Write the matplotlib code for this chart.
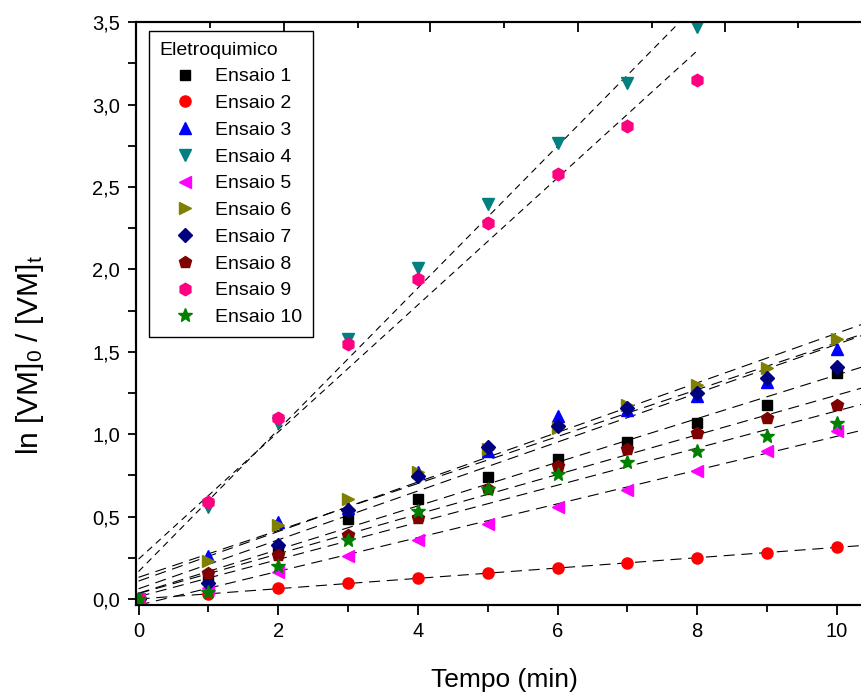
import numpy as np
import matplotlib
matplotlib.use('Agg')
import matplotlib.pyplot as plt
from matplotlib.ticker import MultipleLocator, FuncFormatter

plt.rcParams['font.family'] = ['Liberation Sans', 'DejaVu Sans']
plt.rcParams['mathtext.fontset'] = 'custom'
plt.rcParams['mathtext.rm'] = 'Liberation Sans'
plt.rcParams['mathtext.it'] = 'Liberation Sans:italic'

# data
tempo = [0, 1, 2, 3, 4, 5, 6, 7, 8, 9, 10]
tempo_curto = [0, 1, 2, 3, 4, 5, 6, 7, 8]

ensaio1 = [0, 0.12, 0.30, 0.485, 0.61, 0.74, 0.85, 0.95, 1.07, 1.18, 1.37]
ensaio2 = [0, 0.03, 0.065, 0.095, 0.125, 0.157, 0.19, 0.22, 0.25, 0.28, 0.315]
ensaio3 = [0, 0.26, 0.47, 0.55, 0.77, 0.90, 1.11, 1.15, 1.23, 1.32, 1.52]
ensaio4 = [0, 0.56, 1.07, 1.58, 2.01, 2.40, 2.77, 3.13, 3.47]
ensaio5 = [0, 0.07, 0.165, 0.26, 0.36, 0.455, 0.56, 0.66, 0.78, 0.90, 1.02]
ensaio6 = [0, 0.23, 0.45, 0.61, 0.77, 0.91, 1.04, 1.18, 1.30, 1.40, 1.58]
ensaio7 = [0, 0.10, 0.33, 0.54, 0.745, 0.92, 1.05, 1.16, 1.25, 1.34, 1.41]
ensaio8 = [0, 0.16, 0.27, 0.39, 0.49, 0.67, 0.81, 0.91, 1.01, 1.10, 1.18]
ensaio9 = [0, 0.59, 1.10, 1.55, 1.94, 2.28, 2.58, 2.87, 3.15]
ensaio10 = [0, 0.045, 0.20, 0.36, 0.535, 0.67, 0.76, 0.83, 0.90, 0.99, 1.07]

labels = ['Ensaio %d' % i for i in range(1, 11)]
valores = [ensaio1, ensaio2, ensaio3, ensaio4, ensaio5,
           ensaio6, ensaio7, ensaio8, ensaio9, ensaio10]
cores = ['#000000', '#FF0000', '#0000FF', '#008080', '#FF00FF',
         '#808000', '#000080', '#800000', '#FF0080', '#008000']
marcadores = ['s', 'o', '^', 'v', '<', '>', 'D', 'p', 'h', '*']
tamanhos = [7, 8, 9, 9, 9, 9, 7.5, 9, 9, 10]

fig = plt.figure(figsize=(8.61, 6.95), dpi=100)
# axes run past the right edge, the original picture is cropped there
ax = fig.add_axes([0.158, 0.1295, 0.895, 0.8385])

for lab, y, c, m, s in zip(labels, valores, cores, marcadores, tamanhos):
    x = tempo if len(y) == len(tempo) else tempo_curto
    a, b = np.polyfit(x, y, 1)
    if len(y) == len(tempo):
        xl = np.array([0, 11])
        dash = (10, 6)
    else:
        xl = np.array([0, 8])
        dash = (6, 4.5)
    ax.plot(xl, a * xl + b, color='black', lw=0.8, dashes=dash, zorder=2)
    ax.plot(x, y, linestyle='none', marker=m, color=c, mec=c, ms=s,
            label=lab, zorder=3)

ax.set_xlim(-0.036, 11)
ax.set_ylim(-0.036, 3.5)
ax.xaxis.set_major_locator(MultipleLocator(2))
ax.xaxis.set_minor_locator(MultipleLocator(1))
ax.yaxis.set_major_locator(MultipleLocator(0.5))
ax.yaxis.set_minor_locator(MultipleLocator(0.25))
ax.yaxis.set_major_formatter(FuncFormatter(lambda v, p: ('%.1f' % v).replace('.', ',')))

ax.tick_params(axis='both', which='major', direction='out', length=7, width=1.3,
               labelsize=14.5, pad=5.5)
ax.tick_params(axis='x', which='minor', direction='out', length=5, width=1.3)
ax.tick_params(axis='y', which='minor', direction='out', length=6, width=1.3)
ax.tick_params(axis='y', which='major', length=6)
for sp in ax.spines.values():
    sp.set_linewidth(1.5)

# top axis ticks (inward, own spacing)
ax2 = ax.twiny()
ax2.set_xlim(ax.get_xlim())
ax2.set_xticks([2.08, 4.18, 6.29, 8.40, 10.5])
ax2.set_xticks([1.03, 3.14, 5.23, 7.35, 9.44], minor=True)
ax2.tick_params(axis='x', which='major', direction='in', length=7, width=1.3, labeltop=False)
ax2.tick_params(axis='x', which='minor', direction='in', length=4, width=1.3)
for sp in ax2.spines.values():
    sp.set_linewidth(1.5)

ax.set_xlabel('Tempo (min)', fontsize=19)
ax.xaxis.set_label_coords(0.4776, -0.108)
ax.set_ylabel(r'ln [VM]$_\mathrm{0}$ / [VM]$_\mathrm{t}$', fontsize=21.5)
ax.yaxis.label.set_va('center')
ax.yaxis.set_label_coords(-0.138, 0.429)

leg = ax.legend(title='Eletroquimico', loc='upper left',
                bbox_to_anchor=(149 / 861, 1 - 31 / 695),
                bbox_transform=fig.transFigure, borderaxespad=0,
                fontsize=14, title_fontsize=14, frameon=True, fancybox=False,
                framealpha=1, edgecolor='black', handlelength=2.6,
                handletextpad=0.25, labelspacing=0.47, borderpad=0.55,
                alignment='left')
leg.get_frame().set_linewidth(1.0)
leg.set_zorder(5)

fig.savefig('out.png', dpi=100)
